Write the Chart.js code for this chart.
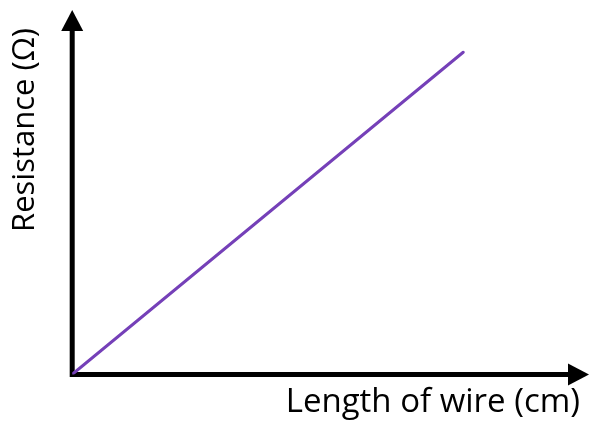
<!DOCTYPE html>
<html>
<head>
<meta charset="utf-8">
<script src="https://cdn.jsdelivr.net/npm/chart.js@4"></script>
<style>
  html, body { margin: 0; padding: 0; background: #fff; }
  #wrap { width: 590px; height: 422px; }
</style>
</head>
<body>
<div id="wrap"><canvas id="resistanceChart"></canvas></div>
<script>
var lengthValues = [0, 7.7];
var resistanceValues = [0, 9.3];
var xAxisLabel = "Length of wire (cm)";
var yAxisLabel = "Resistance (Ω)";

var points = [];
for (let i = 0; i < lengthValues.length; i++) {
  points.push({ x: lengthValues[i], y: resistanceValues[i] });
}

// black axes with arrow heads, drawn under the line
var arrowAxes = {
  id: "arrowAxes",
  beforeDatasetsDraw: function(chart) {
    var ctx = chart.ctx;
    var area = chart.chartArea;
    var x0 = chart.scales.x.getPixelForValue(0);
    var y0 = chart.scales.y.getPixelForValue(0);
    var yTip = area.top - 18;
    var xTip = area.right + 9;
    ctx.save();
    ctx.strokeStyle = "#000";
    ctx.fillStyle = "#000";
    ctx.lineWidth = 5;
    ctx.beginPath();
    ctx.moveTo(x0, y0 + 2.5);
    ctx.lineTo(x0, yTip + 18);
    ctx.moveTo(x0 - 2.5, y0);
    ctx.lineTo(xTip - 18, y0);
    ctx.stroke();
    ctx.beginPath();
    ctx.moveTo(x0, yTip);
    ctx.lineTo(x0 + 11, yTip + 21);
    ctx.lineTo(x0 - 11, yTip + 21);
    ctx.closePath();
    ctx.fill();
    ctx.beginPath();
    ctx.moveTo(xTip, y0);
    ctx.lineTo(xTip - 21, y0 - 11);
    ctx.lineTo(xTip - 21, y0 + 11);
    ctx.closePath();
    ctx.fill();
    ctx.restore();
  }
};

const dataResistance = {
  datasets: [
    {
      label: "Resistance",
      data: points,
      showLine: true,
      borderColor: "#7540B8",
      borderWidth: 3,
      pointRadius: 0,
      borderCapStyle: "round",
    },
  ],
};

const configResistance = {
  type: "scatter",
  data: dataResistance,
  options: {
    responsive: true,
    maintainAspectRatio: false,
    animation: false,
    layout: {
      padding: { top: 28, right: 10, left: 7, bottom: 0 },
    },
    plugins: {
      legend: { display: false },
      tooltip: { enabled: false },
    },
    scales: {
      x: {
        type: "linear",
        min: 0,
        max: 10,
        grid: { display: false },
        border: { display: false },
        ticks: { display: false },
        title: {
          display: true,
          text: xAxisLabel,
          align: "end",
          color: "#000",
          font: { family: "Open Sans", size: 33 },
          padding: { top: 0, bottom: 0 },
        },
      },
      y: {
        type: "linear",
        min: 0,
        max: 10,
        grid: { display: false },
        border: { display: false },
        ticks: { display: false },
        title: {
          display: true,
          text: yAxisLabel,
          align: "end",
          color: "#000",
          font: { family: "Open Sans", size: 31 },
          padding: { top: 0, bottom: 20 },
        },
      },
    },
  },
  plugins: [arrowAxes],
};

var resistanceChart = new Chart(
  document.getElementById("resistanceChart"),
  configResistance
);
</script>
</body>
</html>
